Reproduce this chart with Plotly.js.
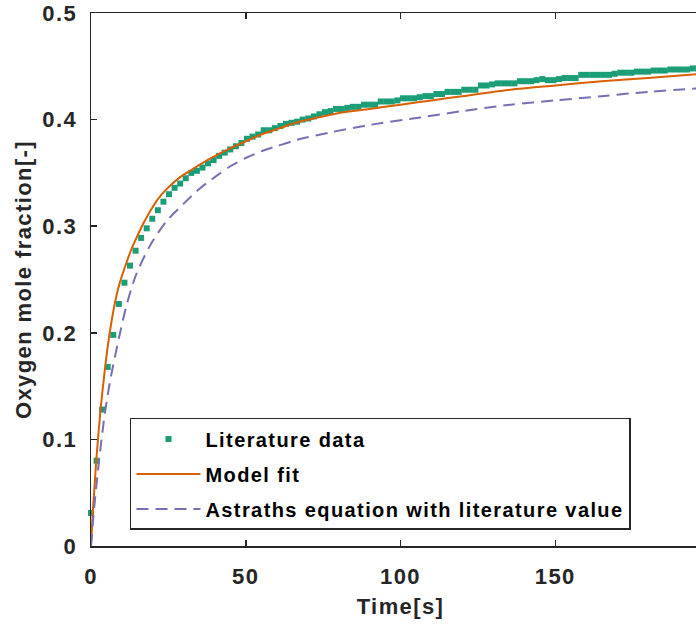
<!DOCTYPE html>
<html>
<head>
<meta charset="utf-8">
<script src="https://cdn.plot.ly/plotly-3.0.1.min.js"></script>
<style>
html, body { margin: 0; padding: 0; overflow: hidden; background: #fff; }
text { letter-spacing: 1.4px; }
</style>
</head>
<body>
<div id="chart"></div>
<script>
// Literature data (time in s, oxygen mole fraction)
const litTime = [0,1.8,3.6,5.4,7.2,9,10.8,12.6,14.4,16.2,18,19.8,21.6,23.4,25.2,27,28.8,30.6,32.4,34.2,
  36,37.8,39.6,41.4,43.2,45,46.8,48.6,50.4,52.2,54,55.8,57.6,59.4,61.2,63,64.8,66.6,68.4,70.2,
  72,73.8,75.6,77.4,79.2,81,82.8,84.6,86.4,88.2,90,91.8,93.6,95.4,97.2,99,100.8,102.6,104.4,106.2,
  108,109.8,111.6,113.4,115.2,117,118.8,120.6,122.4,124.2,126,127.8,129.6,131.4,133.2,135,136.8,138.6,140.4,142.2,
  144,145.8,147.6,149.4,151.2,153,154.8,156.6,158.4,160.2,162,163.8,165.6,167.4,169.2,171,172.8,174.6,176.4,178.2,
  180,181.8,183.6,185.4,187.2,189,190.8,192.6,194.4,196.2,198,199.8];
const litY = [0.031,0.080,0.128,0.168,0.198,0.227,0.247,0.263,0.277,0.289,0.298,0.307,0.315,0.323,0.330,0.336,0.340,0.345,0.350,0.352,
  0.355,0.359,0.362,0.366,0.369,0.372,0.375,0.378,0.382,0.384,0.386,0.390,0.390,0.392,0.394,0.396,0.397,0.398,0.400,0.401,
  0.403,0.405,0.407,0.408,0.410,0.410,0.411,0.412,0.412,0.414,0.414,0.414,0.417,0.417,0.417,0.418,0.420,0.420,0.420,0.421,
  0.422,0.422,0.424,0.424,0.426,0.426,0.426,0.428,0.428,0.428,0.432,0.432,0.433,0.434,0.434,0.434,0.434,0.436,0.436,0.436,
  0.437,0.438,0.437,0.437,0.438,0.439,0.439,0.439,0.442,0.442,0.442,0.442,0.442,0.442,0.443,0.444,0.444,0.444,0.445,0.445,
  0.445,0.446,0.446,0.446,0.447,0.447,0.447,0.447,0.448,0.448,0.448,0.449];

// Model fit curve
const fitTime = [0,0.5,1,1.8,3,4,5.3,6.7,8,9.4,11,13,15,17,19.1,21.5,24.5,28.8,32,35.3,39.5,45,50.3,55,61.1,66,71.9,80.5,90,100,110,120,135.5,150,165,180,200];
const fitY = [0,0.028,0.05,0.084,0.125,0.153,0.185,0.212,0.232,0.248,0.262,0.278,0.291,0.303,0.314,0.325,0.335,0.346,0.352,0.358,0.365,0.373,0.380,0.386,0.392,0.397,0.401,0.4065,0.410,0.414,0.418,0.422,0.428,0.432,0.436,0.439,0.4435];

// Astraths equation with literature value
const astTime = [0,1,2,3,4.5,6,7.2,9.4,11.5,14.5,19.1,24.5,29.9,35,40,44.9,50,55.7,60,66.5,77.3,90,106.4,120,135.5,150,165,180,200];
const astY = [0,0.035,0.064,0.090,0.125,0.152,0.170,0.200,0.226,0.254,0.282,0.305,0.321,0.335,0.346,0.356,0.364,0.371,0.375,0.381,0.388,0.395,0.402,0.408,0.414,0.418,0.422,0.426,0.430];

const xTicks = [0, 50, 100, 150, 200];
const yTicks = [0, 0.1, 0.2, 0.3, 0.4, 0.5];
const yTickText = ['0', '0.1', '0.2', '0.3', '0.4', '0.5'];

const names = ['Literature data', 'Model fit', 'Astraths equation with literature value'];
const colors = ['#1b9e77', '#d95f02', '#7570b3'];

const traces = [
  {x: litTime, y: litY, name: names[0], type: 'scatter', mode: 'markers',
   marker: {symbol: 'square', size: 6, color: colors[0], line: {width: 0}},
   cliponaxis: false, legendgroup: 'a'},
  {x: fitTime, y: fitY, name: names[1], type: 'scatter', mode: 'lines',
   line: {color: colors[1], width: 2, shape: 'spline', smoothing: 0.8}, legendgroup: 'b'},
  {x: astTime, y: astY, name: names[2], type: 'scatter', mode: 'lines',
   line: {color: colors[2], width: 2, dash: '12px,7px', shape: 'spline', smoothing: 0.8}, legendgroup: 'c'}
];

const axisCommon = {
  showline: true, linecolor: '#262626', linewidth: 1.5,
  ticks: 'inside', ticklen: 6, tickwidth: 1.5, tickcolor: '#262626',
  mirror: 'ticks', showgrid: false, zeroline: false,
  tickfont: {size: 22, color: '#262626', weight: 'bold', family: 'Liberation Sans, Arial, sans-serif'}
};

const layout = {
  width: 710, height: 629,
  margin: {l: 91, r: 0, t: 13, b: 83, pad: 0},
  paper_bgcolor: '#fff', plot_bgcolor: '#fff',
  font: {family: 'Liberation Sans, Arial, sans-serif', size: 22, color: '#262626', weight: 'bold'},
  showlegend: true,
  xaxis: Object.assign({}, axisCommon, {
    range: [0, 200], tickvals: xTicks, ticklabelstandoff: 10,
    title: {text: 'Time[s]', standoff: 10, font: {size: 22, color: '#262626', weight: 'bold'}}
  }),
  yaxis: Object.assign({}, axisCommon, {
    range: [0, 0.5], tickvals: yTicks, ticktext: yTickText, ticklabelstandoff: 8,
    title: {text: 'Oxygen mole fraction[-]', standoff: 4, font: {size: 22, color: '#262626', weight: 'bold'}}
  }),
  legend: {
    x: 0.063, y: 0.2402, xanchor: 'left', yanchor: 'top',
    bgcolor: '#fff', bordercolor: '#262626', borderwidth: 1.5,
    font: {size: 20, color: '#000', weight: 'bold', family: 'Liberation Sans, Arial, sans-serif'},
    itemwidth: 64, tracegroupgap: 6
  }
};

Plotly.newPlot('chart', traces, layout, {displayModeBar: false, staticPlot: true});
</script>
</body>
</html>
